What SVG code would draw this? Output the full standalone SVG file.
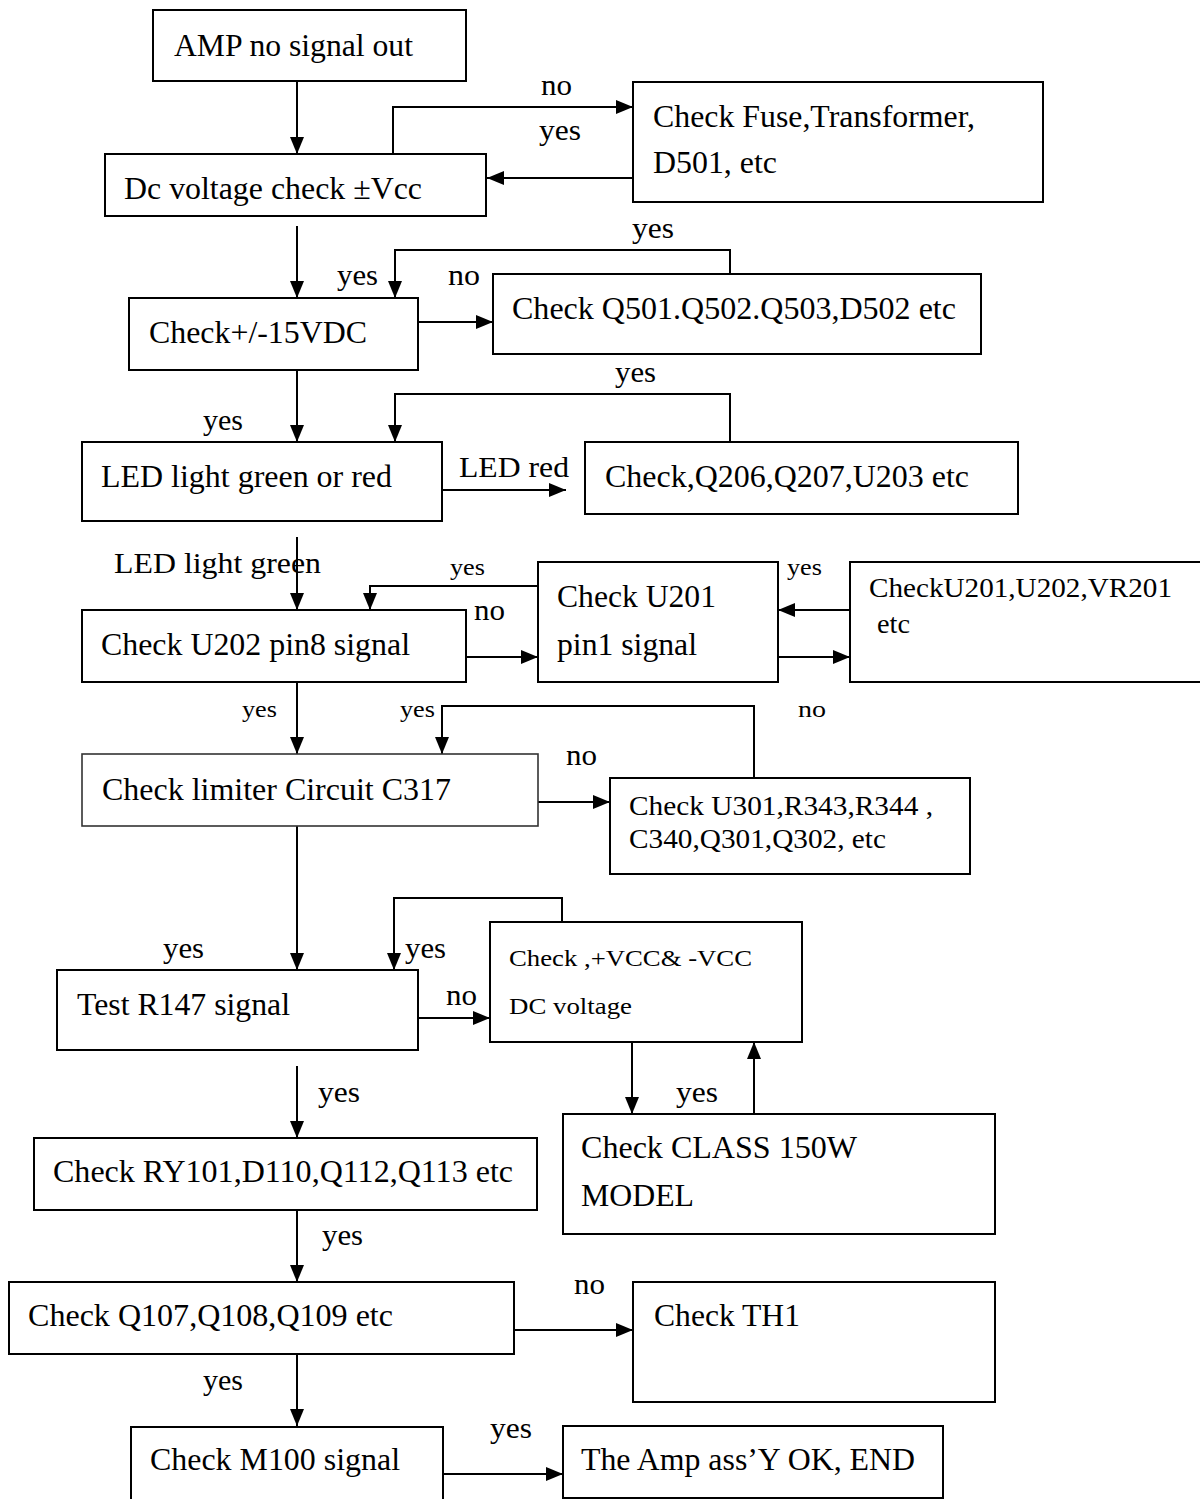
<svg xmlns="http://www.w3.org/2000/svg" width="1200" height="1499" viewBox="0 0 1200 1499">
<style>
.box{fill:#fff;stroke:#000;stroke-width:2}
.box2{fill:#fff;stroke:#333;stroke-width:1.6}
.t{font-family:"Liberation Serif","Times New Roman",serif;font-size:31px;fill:#000}
.m{font-family:"Liberation Serif","Times New Roman",serif;font-size:27px;fill:#000}
.s{font-family:"Liberation Serif","Times New Roman",serif;font-size:24px;fill:#000}
.l{font-family:"Liberation Serif","Times New Roman",serif;font-size:30px;fill:#000}
.ls{font-family:"Liberation Serif","Times New Roman",serif;font-size:23px;fill:#000}
.c{fill:none;stroke:#000;stroke-width:2;marker-end:url(#ah)}
</style>
<defs>
<marker id="ah" markerWidth="17" markerHeight="15" refX="17" refY="7.5" orient="auto" markerUnits="userSpaceOnUse">
<path d="M0,0.5 L17,7.5 L0,14.5 z" fill="#000"/>
</marker>
</defs>
<rect width="1200" height="1499" fill="#fff"/>

<g id="connectors">
<path class="c" d="M297,81 V154"/>
<path class="c" d="M393,154 V107 H633"/>
<path class="c" d="M633,178 H487"/>
<path class="c" d="M297,226 V298"/>
<path class="c" d="M418,322 H493"/>
<path class="c" d="M730,274 V250 H395 V298"/>
<path class="c" d="M297,370 V442"/>
<path class="c" d="M730,442 V394 H395 V442"/>
<path class="c" d="M442,490 H566"/>
<path class="c" d="M297,537 V610"/>
<path class="c" d="M538,586 H370 V610"/>
<path class="c" d="M466,657 H538"/>
<path class="c" d="M850,610 H778"/>
<path class="c" d="M778,657 H850"/>
<path class="c" d="M297,682 V754"/>
<path class="c" d="M754,778 V706 H442 V754"/>
<path class="c" d="M538,802 H610"/>
<path class="c" d="M297,826 V970"/>
<path class="c" d="M562,922 V898 H394 V970"/>
<path class="c" d="M418,1018 H490"/>
<path class="c" d="M297,1066 V1138"/>
<path class="c" d="M632,1042 V1114"/>
<path class="c" d="M754,1114 V1042"/>
<path class="c" d="M297,1210 V1282"/>
<path class="c" d="M514,1330 H633"/>
<path class="c" d="M297,1354 V1426"/>
<path class="c" d="M442,1474 H563"/>
</g>

<g id="labels">
<text class="l" x="541" y="95" textLength="31" lengthAdjust="spacingAndGlyphs">no</text>
<text class="l" x="539" y="140" textLength="42" lengthAdjust="spacingAndGlyphs">yes</text>
<text class="l" x="632" y="238" textLength="42" lengthAdjust="spacingAndGlyphs">yes</text>
<text class="l" x="337" y="285" textLength="41" lengthAdjust="spacingAndGlyphs">yes</text>
<text class="l" x="448" y="285" textLength="32" lengthAdjust="spacingAndGlyphs">no</text>
<text class="l" x="615" y="382" textLength="41" lengthAdjust="spacingAndGlyphs">yes</text>
<text class="l" x="203" y="430" textLength="40" lengthAdjust="spacingAndGlyphs">yes</text>
<text class="l" x="459" y="477" textLength="110" lengthAdjust="spacingAndGlyphs">LED red</text>
<text class="l" x="114" y="573" textLength="207" lengthAdjust="spacingAndGlyphs">LED light green</text>
<text class="ls" x="450" y="575" textLength="35" lengthAdjust="spacingAndGlyphs">yes</text>
<text class="ls" x="787" y="575" textLength="35" lengthAdjust="spacingAndGlyphs">yes</text>
<text class="l" x="474" y="620" textLength="31" lengthAdjust="spacingAndGlyphs">no</text>
<text class="ls" x="242" y="717" textLength="35" lengthAdjust="spacingAndGlyphs">yes</text>
<text class="ls" x="400" y="717" textLength="35" lengthAdjust="spacingAndGlyphs">yes</text>
<text class="ls" x="798" y="717" textLength="28" lengthAdjust="spacingAndGlyphs">no</text>
<text class="l" x="566" y="765" textLength="31" lengthAdjust="spacingAndGlyphs">no</text>
<text class="l" x="163" y="958" textLength="41" lengthAdjust="spacingAndGlyphs">yes</text>
<text class="l" x="405" y="958" textLength="41" lengthAdjust="spacingAndGlyphs">yes</text>
<text class="l" x="446" y="1005" textLength="31" lengthAdjust="spacingAndGlyphs">no</text>
<text class="l" x="318" y="1102" textLength="42" lengthAdjust="spacingAndGlyphs">yes</text>
<text class="l" x="676" y="1102" textLength="42" lengthAdjust="spacingAndGlyphs">yes</text>
<text class="l" x="322" y="1245" textLength="41" lengthAdjust="spacingAndGlyphs">yes</text>
<text class="l" x="574" y="1294" textLength="31" lengthAdjust="spacingAndGlyphs">no</text>
<text class="l" x="203" y="1390" textLength="40" lengthAdjust="spacingAndGlyphs">yes</text>
<text class="l" x="490" y="1438" textLength="42" lengthAdjust="spacingAndGlyphs">yes</text>
</g>

<g id="n1"><rect class="box" x="153" y="10" width="313" height="71"/>
<text class="t" x="174" y="56" textLength="239" lengthAdjust="spacingAndGlyphs">AMP no signal out</text></g>
<g id="n2"><rect class="box" x="105" y="154" width="381" height="62"/>
<text class="t" x="124" y="199" textLength="298" lengthAdjust="spacingAndGlyphs">Dc voltage check ±Vcc</text></g>
<g id="n3"><rect class="box" x="633" y="82" width="410" height="120"/>
<text class="t" x="653" y="127" textLength="322" lengthAdjust="spacingAndGlyphs">Check Fuse,Transformer,</text>
<text class="t" x="653" y="173" textLength="124" lengthAdjust="spacingAndGlyphs">D501, etc</text></g>
<g id="n4"><rect class="box" x="129" y="298" width="289" height="72"/>
<text class="t" x="149" y="343" textLength="218" lengthAdjust="spacingAndGlyphs">Check+/-15VDC</text></g>
<g id="n5"><rect class="box" x="493" y="274" width="488" height="80"/>
<text class="t" x="512" y="319" textLength="444" lengthAdjust="spacingAndGlyphs">Check Q501.Q502.Q503,D502 etc</text></g>
<g id="n6"><rect class="box" x="82" y="442" width="360" height="79"/>
<text class="t" x="101" y="487" textLength="291" lengthAdjust="spacingAndGlyphs">LED light green or red</text></g>
<g id="n7"><rect class="box" x="585" y="442" width="433" height="72"/>
<text class="t" x="605" y="487" textLength="364" lengthAdjust="spacingAndGlyphs">Check,Q206,Q207,U203 etc</text></g>
<g id="n8"><rect class="box" x="82" y="610" width="384" height="72"/>
<text class="t" x="101" y="655" textLength="309" lengthAdjust="spacingAndGlyphs">Check U202 pin8 signal</text></g>
<g id="n9"><rect class="box" x="538" y="562" width="240" height="120"/>
<text class="t" x="557" y="607" textLength="159" lengthAdjust="spacingAndGlyphs">Check U201</text>
<text class="t" x="557" y="655" textLength="140" lengthAdjust="spacingAndGlyphs">pin1 signal</text></g>
<g id="n10"><rect class="box" x="850" y="562" width="352" height="120"/>
<text class="m" x="869" y="597" textLength="303" lengthAdjust="spacingAndGlyphs">CheckU201,U202,VR201</text>
<text class="m" x="877" y="633" textLength="33" lengthAdjust="spacingAndGlyphs">etc</text></g>
<g id="n11"><rect class="box2" x="82" y="754" width="456" height="72"/>
<text class="t" x="102" y="800" textLength="349" lengthAdjust="spacingAndGlyphs">Check limiter Circuit C317</text></g>
<g id="n12"><rect class="box" x="610" y="778" width="360" height="96"/>
<text class="m" x="629" y="815" textLength="304" lengthAdjust="spacingAndGlyphs">Check U301,R343,R344 ,</text>
<text class="m" x="629" y="848" textLength="257" lengthAdjust="spacingAndGlyphs">C340,Q301,Q302, etc</text></g>
<g id="n13"><rect class="box" x="57" y="970" width="361" height="80"/>
<text class="t" x="77" y="1015" textLength="213" lengthAdjust="spacingAndGlyphs">Test R147 signal</text></g>
<g id="n14"><rect class="box" x="490" y="922" width="312" height="120"/>
<text class="s" x="509" y="966" textLength="243" lengthAdjust="spacingAndGlyphs">Check ,+VCC&amp; -VCC</text>
<text class="s" x="509" y="1014" textLength="123" lengthAdjust="spacingAndGlyphs">DC voltage</text></g>
<g id="n15"><rect class="box" x="34" y="1138" width="503" height="72"/>
<text class="t" x="53" y="1182" textLength="460" lengthAdjust="spacingAndGlyphs">Check RY101,D110,Q112,Q113 etc</text></g>
<g id="n16"><rect class="box" x="563" y="1114" width="432" height="120"/>
<text class="t" x="581" y="1158" textLength="276" lengthAdjust="spacingAndGlyphs">Check CLASS 150W</text>
<text class="t" x="581" y="1206" textLength="113" lengthAdjust="spacingAndGlyphs">MODEL</text></g>
<g id="n17"><rect class="box" x="9" y="1282" width="505" height="72"/>
<text class="t" x="28" y="1326" textLength="365" lengthAdjust="spacingAndGlyphs">Check Q107,Q108,Q109 etc</text></g>
<g id="n18"><rect class="box" x="633" y="1282" width="362" height="120"/>
<text class="t" x="654" y="1326" textLength="146" lengthAdjust="spacingAndGlyphs">Check TH1</text></g>
<g id="n19"><rect class="box" x="131" y="1427" width="312" height="80"/>
<text class="t" x="150" y="1470" textLength="250" lengthAdjust="spacingAndGlyphs">Check M100 signal</text></g>
<g id="n20"><rect class="box" x="563" y="1426" width="380" height="72"/>
<text class="t" x="581" y="1470" textLength="334" lengthAdjust="spacingAndGlyphs">The Amp ass’Y OK, END</text></g>
</svg>
